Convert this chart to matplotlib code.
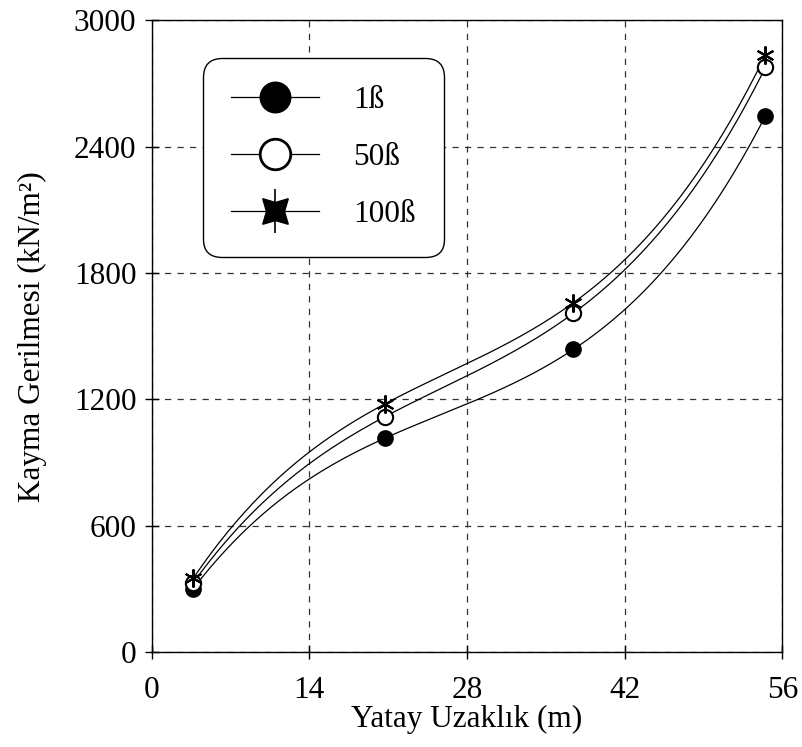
import numpy as np
import matplotlib
matplotlib.use("Agg")
import matplotlib.pyplot as plt
from matplotlib.lines import Line2D

# data
x_pos = [3.7, 20.7, 37.45, 54.5]
y_1b = [301, 1015, 1437, 2547]
y_50b = [329, 1117, 1609, 2777]
y_100b = [350, 1178, 1659, 2836]
labels = ['1ß', '50ß', '100ß']

x_ticks = [0, 14, 28, 42, 56]
y_ticks = [0, 600, 1200, 1800, 2400, 3000]

plt.rcParams['font.family'] = ['Liberation Serif', 'DejaVu Serif']

fig = plt.figure(figsize=(8.03, 7.47), dpi=100)
ax = fig.add_axes([0.1888, 0.1273, 0.7855, 0.8454])

# smooth curve through the 4 points (cubic)
xs = np.linspace(x_pos[0], x_pos[-1], 200)
for ys in [y_1b, y_50b, y_100b]:
    coef = np.polyfit(x_pos, ys, 3)
    ax.plot(xs, np.polyval(coef, xs), color='black', lw=0.9, zorder=3)

ax.plot(x_pos, y_1b, 'o', color='black', markersize=11, zorder=4)
ax.plot(x_pos, y_50b, 'o', mfc='white', mec='black', mew=1.5, markersize=11, zorder=5)
ax.plot(x_pos, y_100b, marker=(6, 2, 0), ls='none', color='black', mew=1.5, markersize=13, zorder=6)

ax.set_xlim(0, 56)
ax.set_ylim(0, 3000)
ax.set_xticks(x_ticks)
ax.set_yticks(y_ticks)
ax.tick_params(direction='inout', length=10, width=1, labelsize=22.5, pad=6)
ax.tick_params(axis='x', pad=12)
ax.grid(True, color='#333333', ls=(0, (5, 5)), lw=0.9)
for s in ax.spines.values():
    s.set_linewidth(1)

ax.set_xlabel('Yatay Uzaklık (m)', fontsize=22.5, labelpad=0)
ax.set_ylabel('Kayma Gerilmesi (kN/m²)', fontsize=22.5, labelpad=19)

# legend handles drawn larger than the plot markers
star = Line2D([], [], color='black', lw=0.9, marker=(4, 1, 45), markersize=26)
bar = Line2D([], [], color='black', lw=0, marker='|', markersize=32, mew=1.2)
handles = [
    Line2D([], [], color='black', lw=0.9, marker='o', markersize=22),
    Line2D([], [], color='black', lw=0.9, marker='o', mfc='white', mec='black', mew=2, markersize=22),
    (star, bar),
]
leg = ax.legend(handles, labels, loc='upper left', bbox_to_anchor=(0.0815, 0.9405),
                borderaxespad=0, fontsize=22.5, handlelength=2.8, handletextpad=1.1,
                labelspacing=0.9, borderpad=0.9, fancybox=True, framealpha=1,
                edgecolor='black')
leg.get_frame().set_linewidth(1)
leg.get_frame().set_boxstyle('round,pad=0,rounding_size=0.6')

fig.savefig('out.png', dpi=100)
